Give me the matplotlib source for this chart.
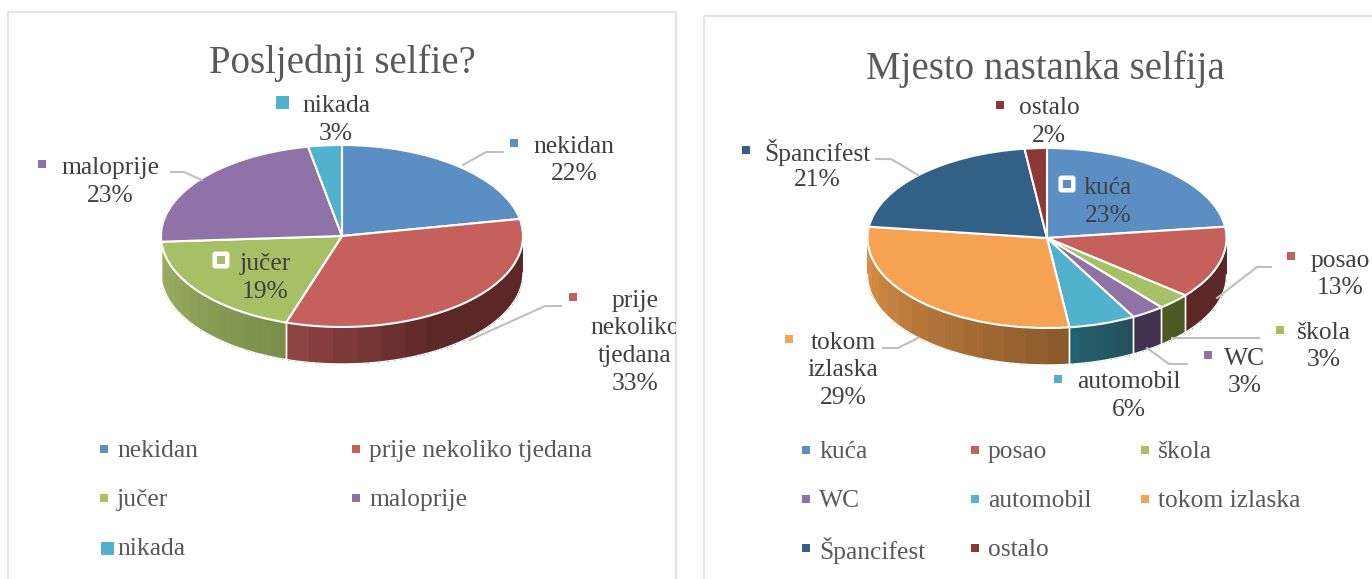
import matplotlib
matplotlib.use("Agg")
import matplotlib.pyplot as plt
from matplotlib.patches import Rectangle, FancyBboxPatch
from matplotlib.colors import to_rgb
import numpy as np

plt.rcParams['font.family'] = ['Liberation Serif', 'DejaVu Serif']

W, H = 1372, 579

# left chart
title1 = "Posljednji selfie?"
names1 = ["nekidan", "prije nekoliko tjedana", "jučer", "maloprije", "nikada"]
values1 = [22, 33, 19, 23, 3]
colors1 = ["#5B8FC4", "#C6605C", "#A6C165", "#8E72A8", "#52B1CC"]
wall1 = [("#5B8FC4", "#5B8FC4"), ("#8F4340", "#5C2826"), ("#9CB064", "#798F4A"),
         ("#8E72A8", "#8E72A8"), ("#52B1CC", "#52B1CC")]

# right chart
title2 = "Mjesto nastanka selfija"
names2 = ["kuća", "posao", "škola", "WC", "automobil", "tokom izlaska", "Špancifest", "ostalo"]
values2 = [23, 13, 3, 3, 6, 29, 21, 2]
colors2 = ["#5B8FC4", "#C6605C", "#A6C165", "#8E72A8", "#52B1CC", "#F5A252", "#336087", "#8C3836"]
wall2 = [("#5B8FC4", "#5B8FC4"), ("#5C2826", "#5C2826"), ("#4C5A25", "#4C5A25"),
         ("#42324F", "#42324F"), ("#22626E", "#26505C"), ("#DB9149", "#8C5A2B"),
         ("#336087", "#336087"), ("#8C3836", "#8C3836")]

TEXT = "#404040"
SOFT = "#595959"
LINE = "#BFBFBF"
FS = 18.4


def draw_pie(values, colors, walls, cx, cy, rx, ry, depth):
    # axes sized so that one data unit is rx px across and ry px down
    d = depth / ry
    x0, x1 = -1.05, 1.05
    y0, y1 = -1.05 - d, 1.05
    ax = fig.add_axes([(cx + x0 * rx) / W, (H - cy + y0 * ry) / H,
                       (x1 - x0) * rx / W, (y1 - y0) * ry / H])
    ax.pie(values, colors=colors, startangle=90, counterclock=False,
           wedgeprops={"edgecolor": "white", "linewidth": 1.5})
    ax.set_aspect("auto")
    ax.set_xlim(x0, x1)
    ax.set_ylim(y0, y1)

    # side wall
    cum = 0
    for v, (c1, c2) in zip(values, walls):
        t1 = 90 - cum * 3.6
        cum += v
        t2 = 90 - cum * 3.6
        lo, hi = max(t2, -180), min(t1, 0)
        if lo >= hi:
            continue
        sat = 0.45 if c1 == "#8F4340" else 1.0
        a, b = np.array(to_rgb(c1)), np.array(to_rgb(c2))
        edges = np.radians(np.linspace(lo, hi, 15))
        for i in range(14):
            t = np.linspace(edges[i], edges[i + 1], 8)
            col = a + (b - a) * min(1, (i / 13) / sat)
            ax.fill_between(np.cos(t), np.sin(t), np.sin(t) - d, facecolor=col,
                            edgecolor="none", lw=0, antialiased=False, zorder=0)
        t = np.radians(np.linspace(lo, hi, 60))
        ax.plot(np.cos(t), np.sin(t) - d, color="white", lw=1, zorder=0.5)
        for e in (lo, hi):
            if e in (-180, 0):
                continue
            r = np.radians(e)
            ax.plot([np.cos(r)] * 2, [np.sin(r), np.sin(r) - d], color="white", lw=1, zorder=0.5)


def square(x, y, s, c):
    top.add_patch(Rectangle((x - s / 2, y - s / 2), s, s, color=c, lw=0))


def boxed(x, y, c):
    top.add_patch(FancyBboxPatch((x - 6, y - 6), 12, 12, boxstyle="round,pad=2.5,rounding_size=3",
                                 fc="white", ec="none"))
    square(x, y, 8, c)


def label(x, y, lines, clip=None):
    for i, s in enumerate(lines):
        t = top.text(x, y + 1 + i * 27.5, s, ha="center", va="center", color=TEXT, fontsize=FS)
        if clip is not None:
            t.set_clip_on(True)
            t.set_clip_path(clip)


def leader(xs, ys):
    top.plot(xs, ys, color=LINE, lw=1.5, solid_joinstyle="miter")


fig = plt.figure(figsize=(W / 100, H / 100), dpi=100, facecolor="white")

draw_pie(values1, colors1, wall1, 342, 236, 181, 91, 37)
draw_pie(values2, colors2, wall2, 1047, 238, 179.5, 90, 37)

top = fig.add_axes([0, 0, 1, 1], zorder=5)
top.set_xlim(0, W)
top.set_ylim(H, 0)
top.axis("off")
top.patch.set_alpha(0)

# chart frames, both run off the bottom of the picture
panel1 = Rectangle((8, 12), 668, H, fc="none", ec="#E4E4E4", lw=1.6)
panel2 = Rectangle((704, 16), W, H, fc="none", ec="#E4E4E4", lw=1.6)
top.add_patch(panel1)
top.add_patch(panel2)

top.text(342, 63, title1, ha="center", va="center", color=SOFT, fontsize=28)
top.text(1045, 69, title2, ha="center", va="center", color=SOFT, fontsize=28)

# left chart labels
leader([463, 486, 503], [165, 152, 152])
leader([171, 184, 202], [172, 172, 180])
leader([470, 545, 561], [340, 306, 306])
square(514, 143, 8, colors1[0])
label(574, 146, [names1[0], f"{values1[0]}%"])
square(573, 297, 8, colors1[1])
label(635, 300, ["prije", "nekoliko", "tjedana", f"{values1[1]}%"], clip=panel1)
boxed(221, 260, colors1[2])
label(265, 263, [names1[2], f"{values1[2]}%"])
square(42, 164, 8, colors1[3])
label(110, 167, [names1[3], f"{values1[3]}%"])
square(282, 102, 13, colors1[4])
label(336, 105, [names1[4], f"{values1[4]}%"])

# right chart labels
leader([876, 891, 918], [159, 159, 175])
leader([1217, 1257, 1271], [298, 267, 267])
leader([1172, 1259], [338, 338])
leader([1147, 1169, 1187], [348, 364, 364])
leader([883, 898, 918], [348, 348, 338])
boxed(1067, 184, colors2[0])
label(1108, 187, [names2[0], f"{values2[0]}%"])
square(1291, 256, 8, colors2[1])
label(1340, 260, [names2[1], f"{values2[1]}%"])
square(1280, 330, 8, colors2[2])
label(1324, 332, [names2[2], f"{values2[2]}%"])
square(1208, 355, 8, colors2[3])
label(1245, 358, [names2[3], f"{values2[3]}%"])
square(1058, 379, 8, colors2[4])
label(1129, 381, [names2[4], f"{values2[4]}%"])
square(789, 339, 8, colors2[5])
label(843, 342, ["tokom", "izlaska", f"{values2[5]}%"])
square(746, 150, 8, colors2[6])
label(817, 152, [names2[6], f"{values2[6]}%"])
square(1000, 105, 8, colors2[7])
label(1049, 107, [names2[7], f"{values2[7]}%"])

# legends
for i, (n, c) in enumerate(zip(names1, colors1)):
    col, row = i % 2, i // 2
    x, y = [104, 356][col], 449 + row * 49
    square(x + (3 if i == 4 else 0), y + (1 if i == 4 else 0), 13 if i == 4 else 8, c)
    top.text(x + 13, y + 2, n, ha="left", va="center", color=SOFT, fontsize=FS)

for i, (n, c) in enumerate(zip(names2, colors2)):
    col, row = i % 3, i // 3
    x, y = [806, 975, 1145][col], 450 + row * 49
    square(x, y, 8, c)
    top.text(x + 13, y + 2, n, ha="left", va="center", color=SOFT, fontsize=FS)

fig.savefig("out.png", dpi=100)
